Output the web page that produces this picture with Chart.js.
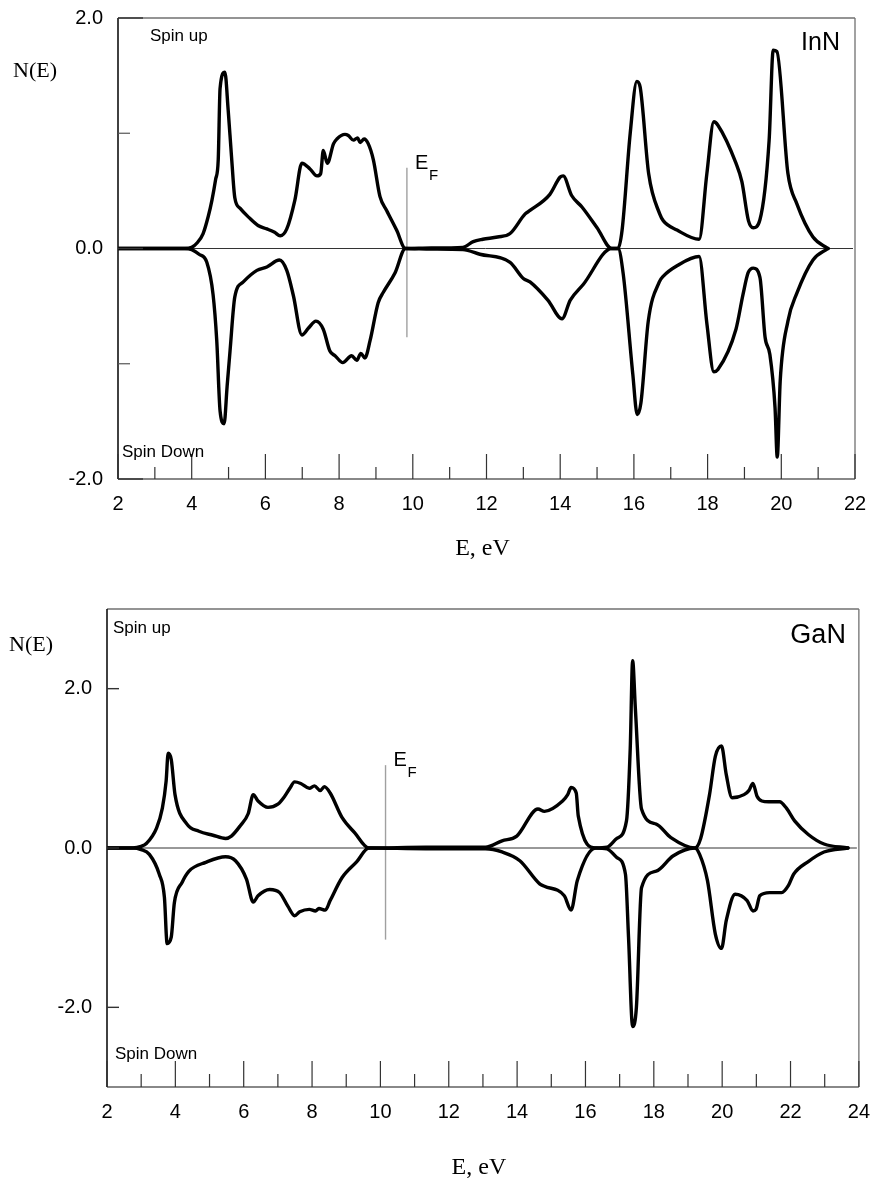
<!DOCTYPE html>
<html>
<head>
<meta charset="utf-8">
<title>InN / GaN DOS</title>
<script src="https://cdn.jsdelivr.net/npm/chart.js@4.4.0/dist/chart.umd.min.js"></script>
<style>
  html, body { margin: 0; padding: 0; background: #fff; }
  canvas { position: absolute; left: 0; }
</style>
</head>
<body>
<canvas id="inn" width="883" height="580" style="top:0"></canvas>
<canvas id="gan" width="883" height="598" style="top:580px"></canvas>
<script>
// ---- InN : energy (eV) and N(E), spin up / spin down ----
const inUpE = [2.0, 3.8, 4.0, 4.15, 4.31, 4.45, 4.55, 4.65, 4.72, 4.77, 4.9, 4.99, 5.08, 5.17, 5.31, 5.55, 5.8, 6.04, 6.25, 6.4, 6.58, 6.8, 6.99, 7.21, 7.4, 7.5, 7.57, 7.68, 7.85, 7.94, 8.16, 8.25, 8.39, 8.5, 8.57, 8.68, 8.79, 8.93, 9.11, 9.29, 9.56, 9.8, 10.5, 11.36, 11.64, 11.9, 12.3, 12.64, 13.05, 13.18, 13.72, 14.0, 14.08, 14.31, 14.59, 15.0, 15.4, 15.57, 15.68, 15.9, 16.08, 16.17, 16.4, 16.7, 16.8, 17.17, 17.77, 17.98, 18.17, 18.28, 18.77, 18.93, 19.11, 19.24, 19.42, 19.67, 19.78, 19.88, 20.18, 20.42, 20.86, 21.27];
const inUpN = [0, 0, 0.01, 0.05, 0.13, 0.28, 0.42, 0.6, 0.77, 1.39, 1.53, 1.2, 0.8, 0.44, 0.35, 0.27, 0.2, 0.17, 0.14, 0.11, 0.17, 0.42, 0.74, 0.69, 0.63, 0.65, 0.85, 0.74, 0.91, 0.95, 0.99, 0.98, 0.94, 0.96, 0.92, 0.95, 0.91, 0.77, 0.45, 0.33, 0.16, 0, 0.005, 0.01, 0.06, 0.08, 0.1, 0.13, 0.3, 0.33, 0.47, 0.62, 0.63, 0.46, 0.36, 0.18, 0, 0, 0.16, 1.0, 1.45, 1.4, 0.65, 0.3, 0.24, 0.16, 0.08, 0.65, 1.1, 1.07, 0.74, 0.58, 0.24, 0.18, 0.25, 0.94, 1.72, 1.71, 0.65, 0.39, 0.1, 0];
const inDnE = [2.0, 3.8, 4.0, 4.2, 4.41, 4.58, 4.68, 4.77, 4.88, 4.96, 5.04, 5.17, 5.4, 5.77, 6.04, 6.38, 6.58, 6.76, 6.99, 7.17, 7.37, 7.57, 7.75, 7.89, 8.1, 8.34, 8.48, 8.59, 8.7, 8.84, 9.06, 9.2, 9.52, 9.8, 10.5, 11.36, 11.82, 12.64, 13.0, 13.18, 13.67, 14.05, 14.27, 14.63, 15.4, 15.57, 15.71, 15.97, 16.09, 16.19, 16.39, 16.69, 16.8, 17.17, 17.77, 17.98, 18.17, 18.28, 18.77, 18.96, 19.1, 19.24, 19.42, 19.56, 19.69, 19.83, 19.89, 19.97, 20.18, 20.42, 20.86, 21.27];
const inDnN = [0, 0, -0.01, -0.05, -0.12, -0.4, -0.8, -1.41, -1.52, -1.2, -0.89, -0.42, -0.29, -0.19, -0.16, -0.1, -0.19, -0.41, -0.75, -0.69, -0.63, -0.7, -0.89, -0.93, -0.99, -0.93, -0.97, -0.91, -0.95, -0.8, -0.47, -0.38, -0.21, 0, -0.005, -0.01, -0.05, -0.12, -0.26, -0.29, -0.45, -0.61, -0.45, -0.31, 0, 0, -0.22, -1.09, -1.44, -1.34, -0.63, -0.29, -0.24, -0.15, -0.07, -0.65, -1.07, -1.05, -0.7, -0.4, -0.21, -0.17, -0.25, -0.77, -0.92, -1.38, -1.81, -1.15, -0.63, -0.39, -0.1, 0];

// ---- GaN ----
const gaUpE = [2.0, 2.75, 3.0, 3.16, 3.45, 3.62, 3.73, 3.79, 3.88, 3.99, 4.34, 4.69, 5.1, 5.47, 5.64, 5.9, 6.13, 6.28, 6.42, 6.71, 7.0, 7.2, 7.35, 7.49, 7.67, 7.92, 8.07, 8.24, 8.36, 8.53, 8.88, 9.25, 9.66, 11.33, 13.07, 13.56, 13.99, 14.61, 14.8, 15.33, 15.48, 15.58, 15.73, 15.79, 16.3, 16.63, 16.92, 17.2, 17.31, 17.38, 17.46, 17.64, 18.07, 18.5, 19.2, 19.37, 19.63, 19.8, 19.98, 20.12, 20.29, 20.64, 20.78, 20.9, 21.02, 21.16, 21.36, 21.68, 21.88, 22.12, 22.52, 22.98, 23.68];
const gaUpN = [0, 0, 0.02, 0.06, 0.25, 0.5, 0.84, 1.19, 1.11, 0.67, 0.3, 0.21, 0.16, 0.12, 0.15, 0.28, 0.43, 0.67, 0.59, 0.51, 0.55, 0.65, 0.75, 0.83, 0.81, 0.75, 0.78, 0.72, 0.77, 0.69, 0.38, 0.19, 0, 0.01, 0.01, 0.09, 0.15, 0.49, 0.46, 0.59, 0.67, 0.76, 0.69, 0.4, 0, 0.01, 0.12, 0.34, 1.25, 2.35, 1.75, 0.49, 0.3, 0.13, 0, 0.12, 0.67, 1.15, 1.28, 0.92, 0.63, 0.67, 0.72, 0.81, 0.65, 0.59, 0.58, 0.58, 0.5, 0.34, 0.17, 0.05, 0];
const gaDnE = [2.0, 2.75, 3.0, 3.24, 3.53, 3.68, 3.76, 3.88, 3.97, 4.2, 4.4, 4.89, 5.47, 5.76, 6.08, 6.28, 6.42, 6.76, 7.05, 7.29, 7.49, 7.64, 7.92, 8.1, 8.2, 8.39, 8.53, 8.88, 9.31, 9.66, 11.33, 13.07, 13.56, 14.08, 14.66, 14.8, 15.38, 15.58, 15.76, 16.3, 16.63, 16.92, 17.17, 17.26, 17.38, 17.49, 17.64, 18.07, 18.56, 19.2, 19.34, 19.57, 19.8, 19.98, 20.12, 20.38, 20.73, 20.9, 20.99, 21.1, 21.39, 21.74, 21.94, 22.09, 22.52, 22.98, 23.68];
const gaDnN = [0, 0, -0.02, -0.08, -0.33, -0.62, -1.2, -1.12, -0.69, -0.43, -0.29, -0.18, -0.11, -0.16, -0.39, -0.68, -0.6, -0.52, -0.56, -0.73, -0.85, -0.8, -0.77, -0.79, -0.76, -0.78, -0.66, -0.37, -0.17, 0, -0.01, -0.01, -0.05, -0.16, -0.45, -0.48, -0.6, -0.78, -0.41, 0, -0.01, -0.12, -0.33, -1.12, -2.24, -2.0, -0.5, -0.29, -0.1, 0, -0.08, -0.41, -1.08, -1.26, -0.91, -0.58, -0.66, -0.79, -0.77, -0.6, -0.56, -0.56, -0.47, -0.33, -0.17, -0.05, 0];

// axis ticks
const inXMajor = [2, 4, 6, 8, 10, 12, 14, 16, 18, 20, 22];
const inXMinor = [3, 5, 7, 9, 11, 13, 15, 17, 19, 21];
const inYLabels = [-2, 0, 2];
const inYMinor = [-1, 1];
const gaXMajor = [2, 4, 6, 8, 10, 12, 14, 16, 18, 20, 22, 24];
const gaXMinor = [3, 5, 7, 9, 11, 13, 15, 17, 19, 21, 23];
const gaYLabels = [-2, 0, 2];

// Fermi level marker: [energy, low, high]
const inFermi = [9.84, -0.77, 0.70];
const gaFermi = [10.15, -1.15, 1.04];

const SANS = "'Liberation Sans', Arial, sans-serif";
const SERIF = "'Liberation Serif', 'Times New Roman', serif";

function pts(es, ns) {
  return es.map((e, i) => ({ x: e, y: ns[i] }));
}

function seg(ctx, x1, y1, x2, y2, color, w) {
  ctx.strokeStyle = color;
  ctx.lineWidth = w;
  ctx.beginPath();
  ctx.moveTo(x1, y1);
  ctx.lineTo(x2, y2);
  ctx.stroke();
}

function txt(ctx, s, x, y, font, align) {
  ctx.font = font;
  ctx.fillStyle = '#000';
  ctx.textAlign = align || 'left';
  ctx.textBaseline = 'alphabetic';
  ctx.fillText(s, x, y);
}

// frame, inward ticks, zero line, Fermi level and labels
const framePlugin = {
  id: 'frame',
  beforeDatasetsDraw(chart, args, o) {
    const ctx = chart.ctx, a = chart.chartArea;
    const sx = chart.scales.x, sy = chart.scales.y;
    ctx.save();
    const y0 = sy.getPixelForValue(0);
    seg(ctx, a.left, y0, a.right - 2, y0, '#333', 1);
    const xf = sx.getPixelForValue(o.fermi[0]);
    seg(ctx, xf, sy.getPixelForValue(o.fermi[1]), xf, sy.getPixelForValue(o.fermi[2]), '#a0a0a0', 1.4);
    ctx.restore();
  },
  afterDraw(chart, args, o) {
    const ctx = chart.ctx, a = chart.chartArea;
    const sx = chart.scales.x, sy = chart.scales.y;
    ctx.save();
    // box
    seg(ctx, a.left, a.top, a.right, a.top, '#707070', 1.3);
    seg(ctx, a.right, a.top, a.right, a.bottom, '#707070', 1.3);
    seg(ctx, a.left, a.bottom, a.right, a.bottom, '#606060', 1.6);
    seg(ctx, a.left, a.top, a.left, a.bottom, '#111', 1.6);
    // ticks pointing inside
    o.xMajor.forEach(v => {
      const x = sx.getPixelForValue(v);
      seg(ctx, x, a.bottom, x, a.bottom - o.xMajorLen, '#333', 1.2);
    });
    o.xMinor.forEach(v => {
      const x = sx.getPixelForValue(v);
      seg(ctx, x, a.bottom, x, a.bottom - o.xMinorLen, '#333', 1.2);
    });
    o.yMajor.forEach(v => {
      const y = sy.getPixelForValue(v);
      seg(ctx, a.left, y, a.left + o.yMajorLen, y, '#333', 1.4);
    });
    o.yMinor.forEach(v => {
      const y = sy.getPixelForValue(v);
      seg(ctx, a.left, y, a.left + 12, y, '#555', 1.2);
    });
    // E_F label
    const xf = sx.getPixelForValue(o.fermi[0]);
    const yf = sy.getPixelForValue(o.fermi[2]);
    txt(ctx, 'E', xf + 8, yf + 1, '20px ' + SANS);
    txt(ctx, 'F', xf + 22, yf + 12, '15px ' + SANS);
    // annotations
    txt(ctx, 'Spin up', a.left + o.up[0], a.top + o.up[1], '17px ' + SANS);
    txt(ctx, 'Spin Down', a.left + o.down[0], a.bottom + o.down[1], '17px ' + SANS);
    txt(ctx, o.name, a.right + o.nameAt[0], a.top + o.nameAt[1], o.nameSize + 'px ' + SANS, 'right');
    txt(ctx, 'N(E)', o.yTitle[0], o.yTitle[1], '22px ' + SERIF);
    txt(ctx, 'E, eV', (a.left + a.right) / 2 - 4, a.bottom + o.xTitleDy, '24px ' + SERIF, 'center');
    ctx.restore();
  }
};

function makeChart(id, sets, xMax, yMin, yMax, yLabels, pad, yWidth, xHeight, frameOpts) {
  const line = data => ({
    data: data,
    showLine: true,
    borderColor: '#000',
    borderWidth: 3.4,
    pointRadius: 0,
    fill: false,
    cubicInterpolationMode: 'monotone',
    borderJoinStyle: 'round',
    borderCapStyle: 'round'
  });
  return new Chart(document.getElementById(id), {
    type: 'scatter',
    data: { datasets: sets.map(line) },
    options: {
      responsive: false,
      animation: false,
      layout: { padding: pad },
      plugins: { legend: { display: false }, tooltip: { enabled: false }, frame: frameOpts },
      scales: {
        x: {
          type: 'linear', min: 2, max: xMax,
          afterBuildTicks: s => { s.ticks = frameOpts.xMajor.map(v => ({ value: v })); },
          afterFit: s => { s.height = xHeight; },
          grid: { display: false, drawTicks: false },
          border: { display: false },
          ticks: { padding: 13, color: '#000', font: { family: SANS, size: 20 }, maxRotation: 0 }
        },
        y: {
          type: 'linear', min: yMin, max: yMax,
          afterBuildTicks: s => { s.ticks = yLabels.map(v => ({ value: v })); },
          afterFit: s => { s.width = yWidth; },
          grid: { display: false, drawTicks: false },
          border: { display: false },
          ticks: { padding: 15, color: '#000', font: { family: SANS, size: 20, lineHeight: 0.2 }, callback: v => v.toFixed(1) }
        }
      }
    },
    plugins: [framePlugin]
  });
}

makeChart('inn',
  [pts(inUpE, inUpN), pts(inDnE, inDnN)],
  22, -2, 2, inYLabels,
  { left: 0, top: 18, right: 28, bottom: 0 }, 118, 101,
  {
    xMajor: inXMajor, xMinor: inXMinor, xMajorLen: 25, xMinorLen: 12,
    yMajor: inYLabels, yMinor: inYMinor, yMajorLen: 25,
    fermi: inFermi, name: 'InN', nameSize: 25,
    up: [32, 23], down: [4, -22], nameAt: [-15, 32],
    yTitle: [13, 77], xTitleDy: 76
  });

makeChart('gan',
  [pts(gaUpE, gaUpN), pts(gaDnE, gaDnN)],
  24, -3, 3, gaYLabels,
  { left: 0, top: 29, right: 15, bottom: 0 }, 107, 91,
  {
    xMajor: gaXMajor, xMinor: gaXMinor, xMajorLen: 26, xMinorLen: 13,
    yMajor: gaYLabels, yMinor: [], yMajorLen: 12,
    fermi: gaFermi, name: 'GaN', nameSize: 27,
    up: [6, 24], down: [8, -28], nameAt: [-13, 34],
    yTitle: [9, 71], xTitleDy: 87
  });
</script>
</body>
</html>
